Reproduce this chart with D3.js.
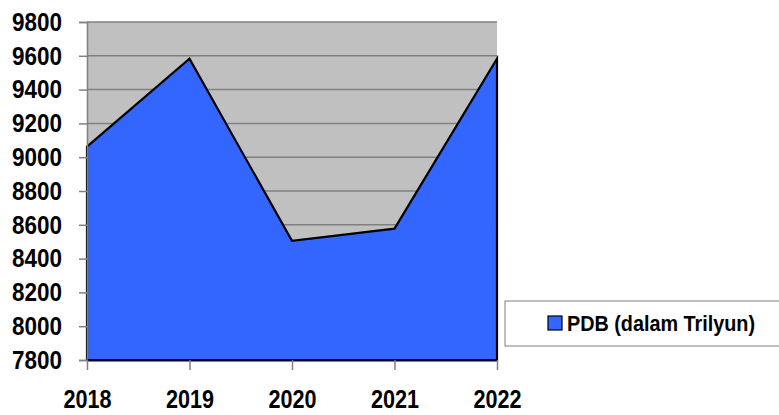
<!DOCTYPE html>
<html>
<head>
<meta charset="utf-8">
<script src="https://cdn.jsdelivr.net/npm/d3@7"></script>
<style>
  body { margin: 0; background: #fff; }
  svg text { font-family: "Liberation Sans", Arial, sans-serif; font-weight: bold; }
</style>
</head>
<body>
<div id="chart"></div>
<script>
const years = ['2018', '2019', '2020', '2021', '2022'];
const pdb = [9063, 9583, 8505, 8577, 9583];
const yTicks = [7800, 8000, 8200, 8400, 8600, 8800, 9000, 9200, 9400, 9600, 9800];
const seriesName = 'PDB (dalam Trilyun)';

let width = 779, height = 415;
let margin = { top: 22, right: 282, bottom: 55, left: 87 };
let w = width - margin.left - margin.right,
    h = height - margin.top - margin.bottom;

let svg = d3.select('#chart').append('svg')
    .attr('width', width).attr('height', height);

let main = svg.append('g')
    .attr('transform', 'translate(' + margin.left + ',' + margin.top + ')');

let x = d3.scalePoint().domain(years).range([0, w]);
let y = d3.scaleLinear().domain([7800, 9800]).range([h, 0]);

// plot background
main.append('rect').attr('width', w).attr('height', h).attr('fill', '#c0c0c0');

// gridlines
main.append('g').selectAll('line').data(yTicks).enter().append('line')
    .attr('x1', 0).attr('x2', w)
    .attr('y1', d => y(d)).attr('y2', d => y(d))
    .attr('stroke', '#808080').attr('stroke-width', 1.5);

// area
let area = d3.area()
    .x((d, i) => x(years[i]))
    .y0(h)
    .y1(d => y(d));

main.append('path').datum(pdb)
    .attr('d', area)
    .attr('fill', '#3366ff')
    .attr('stroke', '#000')
    .attr('stroke-width', 2.2)
    .attr('stroke-linejoin', 'miter');

// y axis
let yAxis = d3.axisLeft(y).tickValues(yTicks).tickFormat(d3.format('d')).tickSize(8).tickPadding(17);
let gy = main.append('g').call(yAxis);
gy.select('.domain').attr('stroke', '#808080').attr('stroke-width', 1.5);
gy.selectAll('.tick line').attr('stroke', '#808080').attr('stroke-width', 1.5);
gy.selectAll('text').attr('font-size', 26).attr('fill', '#000')
    .attr('font-family', null)
    .attr('textLength', 50).attr('lengthAdjust', 'spacingAndGlyphs');

// x axis
let xAxis = d3.axisBottom(x).tickSize(10).tickSizeOuter(0).tickPadding(20);
let gx = main.append('g').attr('transform', 'translate(0,' + h + ')').call(xAxis);
gx.select('.domain').attr('stroke', '#000033').attr('stroke-width', 2);
gx.selectAll('.tick line').attr('stroke', '#808080').attr('stroke-width', 1.5);
gx.selectAll('text').attr('font-size', 25).attr('fill', '#000')
    .attr('font-family', null)
    .attr('textLength', 48).attr('lengthAdjust', 'spacingAndGlyphs');

// legend
let lg = svg.append('g').attr('transform', 'translate(505,301)');
lg.append('rect').attr('width', 280).attr('height', 45)
    .attr('fill', '#fff').attr('stroke', '#808080').attr('stroke-width', 1);
lg.append('rect').attr('x', 43).attr('y', 15).attr('width', 14).attr('height', 14)
    .attr('fill', '#3366ff').attr('stroke', '#000').attr('stroke-width', 1.2);
lg.append('text').attr('x', 62).attr('y', 30)
    .attr('font-size', 22).attr('fill', '#000')
    .attr('textLength', 188).attr('lengthAdjust', 'spacingAndGlyphs')
    .text(seriesName);
</script>
</body>
</html>
